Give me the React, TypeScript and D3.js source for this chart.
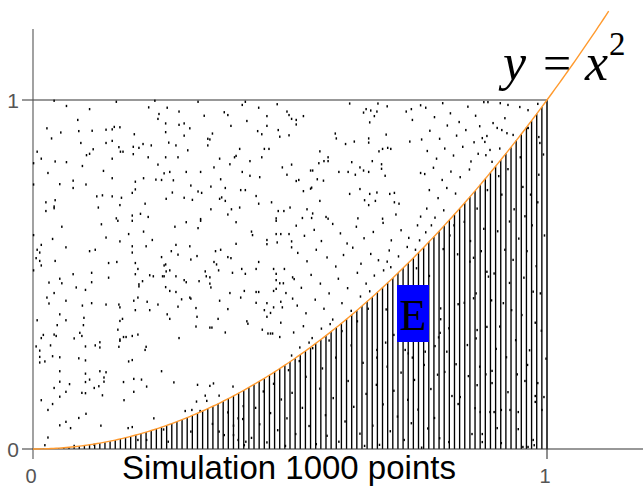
import React from "react";
import * as d3 from "d3";

const W = 643;
const H = 486;

const xTicks = [0, 1];
const yTicks = [0, 1];
const xTickLabels = ["0", "1"];
const yTickLabels = ["0", "1"];
const caption = "Simulation 1000 points";
const regionLabel = "E";
const hatchCount = 100;
const curveEnd = 1.12;

// simulated points (x, y) read /
const pointsUpperLeft: [number, number][] = [
  [0.041,0.998],[0.065,0.983],[0.110,0.974],[0.162,0.995],[0.225,0.979],[0.237,0.998],[0.245,0.960],[0.243,0.946],[0.087,0.943],[0.027,0.919],
  [0.054,0.907],[0.089,0.911],[0.115,0.912],[0.142,0.915],[0.154,0.916],[0.158,0.923],[0.169,0.922],[0.197,0.902],[0.036,0.890],[0.093,0.877],
  [0.117,0.859],[0.104,0.842],[0.110,0.846],[0.142,0.877],[0.154,0.883],[0.167,0.865],[0.170,0.852],[0.175,0.852],[0.195,0.866],[0.195,0.845],
  [0.206,0.863],[0.214,0.874],[0.230,0.870],[0.224,0.836],[0.008,0.852],[0.016,0.832],[0.043,0.824],[0.065,0.822],[0.096,0.811],[0.154,0.832],
  [0.137,0.797],[0.243,0.815],[0.001,0.819],[0.029,0.791],[0.078,0.769],[0.103,0.758],[0.052,0.759],[0.001,0.758],[0.078,0.748],[0.154,0.776],
  [0.199,0.766],[0.215,0.776],[0.239,0.772],[0.250,0.771],[0.199,0.744],[0.193,0.734],[0.124,0.724],[0.135,0.727],[0.154,0.724],[0.172,0.720],
  [0.043,0.713],[0.025,0.707],[0.025,0.682],[0.041,0.695],[0.041,0.690],[0.127,0.692],[0.169,0.699],[0.218,0.703],[0.193,0.669],[0.209,0.674],
  [0.224,0.665],[0.162,0.661],
  [0.321,0.995],[0.261,0.978],[0.284,0.967],[0.333,0.955],[0.372,0.965],[0.379,0.957],[0.407,0.986],[0.413,0.995],[0.439,0.978],[0.475,0.988],
  [0.494,0.967],[0.498,0.957],[0.455,0.954],[0.503,0.946],[0.416,0.940],[0.258,0.933],[0.284,0.929],[0.294,0.933],[0.305,0.919],[0.385,0.926],
  [0.455,0.926],[0.258,0.908],[0.294,0.898],[0.349,0.904],[0.437,0.911],[0.445,0.902],[0.477,0.914],[0.480,0.895],[0.498,0.899],[0.264,0.878],
  [0.278,0.870],[0.340,0.889],[0.344,0.887],[0.340,0.870],[0.301,0.856],[0.402,0.860],[0.450,0.860],[0.459,0.860],[0.258,0.836],[0.282,0.836],
  [0.363,0.832],[0.392,0.836],[0.395,0.840],[0.422,0.825],[0.445,0.836],[0.383,0.816],[0.352,0.807],[0.503,0.815],[0.485,0.807],[0.255,0.790],
  [0.266,0.794],[0.298,0.794],[0.326,0.794],[0.407,0.794],[0.422,0.783],[0.441,0.779],[0.494,0.786],[0.273,0.770],[0.365,0.773],[0.307,0.755],
  [0.346,0.752],[0.374,0.748],[0.404,0.742],[0.413,0.742],[0.321,0.738],[0.328,0.734],[0.271,0.735],[0.294,0.720],[0.310,0.714],[0.363,0.717],
  [0.367,0.721],[0.374,0.711],[0.434,0.725],[0.439,0.703],[0.464,0.707],[0.259,0.717],[0.402,0.692],[0.386,0.687],[0.346,0.687],[0.477,0.682],
  [0.488,0.682],[0.500,0.692],[0.379,0.672],[0.326,0.659],[0.473,0.661],
  [0.616,0.990],[0.648,0.974],[0.657,0.970],[0.643,0.964],[0.669,0.967],[0.671,0.990],[0.689,0.982],[0.664,0.954],[0.726,0.967],[0.736,0.974],
  [0.754,0.985],[0.738,0.943],[0.655,0.936],[0.512,0.943],[0.526,0.954],[0.512,0.930],[0.588,0.904],[0.590,0.890],[0.608,0.874],[0.625,0.881],
  [0.653,0.890],[0.653,0.878],[0.687,0.901],[0.733,0.881],[0.756,0.887],[0.673,0.853],[0.680,0.860],[0.690,0.863],[0.696,0.860],[0.558,0.853],
  [0.574,0.836],[0.566,0.825],[0.574,0.825],[0.556,0.819],[0.620,0.822],[0.660,0.825],[0.636,0.807],[0.643,0.798],[0.653,0.794],[0.678,0.816],
  [0.678,0.803],[0.540,0.798],[0.544,0.798],[0.595,0.794],[0.613,0.794],[0.627,0.786],[0.685,0.783],[0.754,0.791],[0.512,0.768],[0.517,0.771],
  [0.553,0.773],[0.565,0.769],[0.540,0.746],[0.542,0.749],[0.526,0.739],[0.636,0.745],[0.616,0.731],[0.655,0.731],[0.669,0.735],[0.694,0.731],
  [0.703,0.734],[0.558,0.711],[0.645,0.713],[0.666,0.711],[0.703,0.707],[0.712,0.703],[0.653,0.699],[0.533,0.687],[0.544,0.675],[0.706,0.672],
  [0.524,0.662],[0.542,0.662],[0.570,0.665],[0.574,0.660],[0.632,0.661],[0.680,0.660],[0.754,0.666],
];

const pointsMiddle: [number, number][] = [
  [0.056,0.637],[0.133,0.644],[0.165,0.654],[0.193,0.654],[0.215,0.623],[0.186,0.616],[0.142,0.606],[0.169,0.595],[0.001,0.613],[0.038,0.602],
  [0.016,0.585],[0.008,0.571],[0.013,0.563],[0.064,0.578],[0.110,0.567],[0.121,0.571],[0.193,0.581],[0.193,0.563],[0.220,0.581],[0.232,0.599],
  [0.250,0.550],[0.006,0.547],[0.013,0.539],[0.016,0.526],[0.043,0.539],[0.147,0.533],[0.163,0.536],[0.199,0.533],[0.204,0.516],[0.001,0.512],
  [0.078,0.501],[0.114,0.505],[0.199,0.501],[0.227,0.498],[0.234,0.495],[0.252,0.495],[0.052,0.488],[0.147,0.491],[0.031,0.477],[0.056,0.475],
  [0.114,0.478],[0.206,0.472],[0.206,0.466],[0.213,0.481],[0.084,0.463],[0.102,0.456],[0.041,0.447],[0.027,0.434],[0.064,0.425],[0.031,0.417],
  [0.114,0.418],[0.142,0.414],[0.167,0.414],[0.169,0.406],[0.096,0.411],[0.196,0.425],[0.204,0.434],[0.222,0.422],[0.243,0.414],[0.199,0.398],
  [0.227,0.398],[0.052,0.386],[0.064,0.369],[0.008,0.369],[0.099,0.376],[0.098,0.355],[0.047,0.355],[0.174,0.373],[0.169,0.367],[0.165,0.342],
  [0.091,0.333],[0.095,0.324],[0.020,0.327],[0.041,0.328],[0.045,0.324],[0.016,0.318],[0.080,0.317],[0.176,0.321],[0.181,0.321],[0.193,0.324],
  [0.204,0.328],[0.169,0.314],
  [0.276,0.637],[0.298,0.650],[0.321,0.633],[0.326,0.654],[0.395,0.650],[0.473,0.654],[0.425,0.623],[0.427,0.613],[0.473,0.616],[0.482,0.616],
  [0.498,0.616],[0.503,0.595],[0.455,0.599],[0.455,0.587],[0.475,0.592],[0.503,0.578],[0.395,0.588],[0.278,0.585],[0.305,0.581],[0.269,0.567],
  [0.282,0.557],[0.319,0.553],[0.355,0.567],[0.365,0.571],[0.379,0.550],[0.385,0.547],[0.307,0.543],[0.352,0.536],[0.357,0.529],[0.439,0.536],
  [0.258,0.529],[0.255,0.526],[0.259,0.509],[0.266,0.512],[0.335,0.509],[0.361,0.512],[0.388,0.505],[0.406,0.516],[0.413,0.502],[0.434,0.516],
  [0.468,0.516],[0.473,0.502],[0.489,0.516],[0.505,0.492],[0.255,0.495],[0.278,0.495],[0.337,0.495],[0.344,0.492],[0.294,0.484],[0.298,0.478],
  [0.323,0.481],[0.344,0.474],[0.346,0.463],[0.473,0.484],[0.480,0.475],[0.487,0.475],[0.473,0.459],[0.468,0.453],[0.258,0.464],[0.266,0.453],
  [0.278,0.450],[0.411,0.453],[0.434,0.450],[0.439,0.450],[0.383,0.447],[0.404,0.434],[0.492,0.447],[0.505,0.431],[0.289,0.429],[0.305,0.434],
  [0.307,0.431],[0.363,0.425],[0.434,0.419],[0.455,0.418],[0.482,0.422],[0.282,0.408],[0.317,0.404],[0.379,0.401],[0.450,0.398],[0.462,0.390],
  [0.468,0.406],[0.485,0.406],[0.455,0.379],[0.261,0.386],[0.266,0.373],[0.319,0.379],[0.360,0.373],[0.482,0.362],[0.317,0.351],[0.344,0.348],
  [0.348,0.348],[0.374,0.334],[0.416,0.366],[0.418,0.359],[0.446,0.342],[0.457,0.331],[0.462,0.331],[0.466,0.331],[0.480,0.321],[0.284,0.318],
  [0.512,0.640],[0.528,0.611],[0.547,0.628],[0.561,0.596],[0.583,0.645],[0.598,0.618],[0.611,0.589],[0.629,0.637],[0.644,0.604],[0.662,0.622],
  [0.681,0.648],[0.697,0.598],[0.716,0.627],[0.731,0.605],[0.748,0.641],[0.752,0.598],
  [0.515,0.562],[0.533,0.538],[0.551,0.571],[0.572,0.549],[0.589,0.523],[0.604,0.556],[0.622,0.577],[0.638,0.531],[0.657,0.559],[0.672,0.541],
  [0.693,0.569],[0.711,0.552],[0.728,0.579],[0.744,0.571],
  [0.508,0.487],[0.522,0.462],[0.541,0.499],[0.559,0.474],[0.576,0.446],[0.594,0.488],[0.612,0.461],[0.631,0.505],[0.648,0.474],[0.664,0.497],
  [0.682,0.512],[0.514,0.411],[0.531,0.389],[0.549,0.428],[0.566,0.402],[0.583,0.371],[0.601,0.418],[0.619,0.396],[0.637,0.437],[0.655,0.452],
  [0.507,0.334],[0.526,0.352],[0.543,0.318],[0.561,0.345],[0.578,0.358],[0.519,0.291],[0.537,0.305],[0.503,0.268],
];

const pointsRight: [number, number][] = [
  [0.764,0.978],[0.781,0.951],[0.797,0.991],[0.812,0.962],[0.829,0.937],[0.846,0.981],[0.861,0.955],[0.772,0.912],[0.791,0.889],[0.806,0.927],
  [0.824,0.898],[0.842,0.914],[0.858,0.879],[0.869,0.925],[0.767,0.854],[0.785,0.832],[0.801,0.861],[0.818,0.841],[0.836,0.866],[0.852,0.824],
  [0.866,0.846],[0.762,0.788],[0.779,0.806],[0.796,0.771],[0.813,0.795],[0.831,0.779],[0.849,0.801],[0.771,0.742],[0.788,0.719],[0.805,0.748],
  [0.822,0.732],[0.766,0.689],[0.782,0.663],[0.799,0.684],[0.764,0.621],[0.775,0.641],
  [0.881,0.842],[0.893,0.823],[0.908,0.861],[0.889,0.857],
  [0.877,0.994],[0.885,0.994],[0.909,0.991],[0.924,0.986],[0.947,0.980],[0.963,0.971],[0.982,0.989],[0.918,0.948],[0.895,0.934],[0.903,0.920],
  [0.912,0.914],[0.922,0.905],[0.934,0.900],[0.883,0.897],[0.879,0.880],[0.874,0.891],[0.963,0.920],[0.984,0.894],[0.986,0.877],
];

const pointsLower: [number, number][] = [
  [0.034,0.297],[0.006,0.294],[0.013,0.282],[0.013,0.264],[0.013,0.248],[0.023,0.251],[0.038,0.266],[0.052,0.263],[0.089,0.260],[0.102,0.294],
  [0.102,0.254],[0.121,0.297],[0.130,0.306],[0.130,0.291],[0.169,0.310],[0.167,0.293],[0.218,0.284],[0.220,0.293],[0.193,0.255],[0.186,0.251],
  [0.052,0.223],[0.102,0.216],[0.130,0.223],[0.142,0.220],[0.250,0.223],[0.052,0.193],[0.071,0.186],[0.102,0.192],[0.110,0.199],[0.138,0.205],
  [0.138,0.193],[0.119,0.175],[0.128,0.180],[0.176,0.192],[0.196,0.201],[0.211,0.199],[0.221,0.179],[0.041,0.175],[0.064,0.164],[0.095,0.161],
  [0.102,0.160],[0.052,0.150],[0.135,0.154],[0.196,0.164],[0.016,0.140],[0.038,0.129],[0.029,0.112],[0.103,0.101],[0.089,0.089],[0.064,0.078],
  [0.052,0.068],[0.073,0.060],[0.132,0.067],[0.185,0.060],[0.193,0.063],[0.235,0.088],[0.029,0.033],[0.023,0.011],[0.080,0.009],[0.119,0.012],
  [0.274,0.191],[0.320,0.184],[0.344,0.181],[0.351,0.188],[0.389,0.179],[0.177,0.140],[0.204,0.026],[0.221,0.026],[0.254,0.056],[0.263,0.021],
  [0.296,0.109],[0.309,0.112],[0.318,0.136],[0.335,0.153],[0.338,0.138],[0.362,0.153],[0.379,0.105],[0.409,0.123],[0.408,0.086],[0.399,0.088],
  [0.390,0.067],[0.390,0.040],[0.349,0.072],[0.362,0.050],[0.372,0.040],[0.307,0.050],[0.399,0.026],[0.414,0.021],[0.411,0.011],[0.325,0.109],
  [0.425,0.032],[0.433,0.118],[0.441,0.071],[0.448,0.165],[0.455,0.019],[0.462,0.103],[0.468,0.187],[0.476,0.054],[0.483,0.142],[0.491,0.009],
  [0.497,0.226],[0.494,0.088],[0.504,0.161],[0.511,0.043],[0.518,0.252],[0.524,0.118],[0.531,0.207],[0.537,0.066],[0.544,0.289],[0.551,0.014],
  [0.558,0.173],[0.563,0.231],[0.569,0.097],[0.576,0.311],[0.572,0.038],[0.584,0.146],[0.589,0.262],[0.595,0.021],[0.601,0.338],[0.607,0.079],
  [0.613,0.195],[0.619,0.297],[0.624,0.121],[0.631,0.366],[0.636,0.044],[0.642,0.247],[0.648,0.158],[0.652,0.402],[0.645,0.009],
  [0.661,0.067],[0.668,0.184],[0.674,0.012],[0.681,0.128],[0.689,0.236],[0.695,0.051],[0.702,0.167],[0.709,0.093],[0.716,0.219],[0.722,0.026],
  [0.729,0.141],[0.736,0.074],[0.742,0.198],[0.749,0.113],[0.756,0.004],[0.761,0.241],[0.768,0.059],[0.774,0.172],[0.781,0.089],[0.787,0.213],
  [0.791,0.031],
  [0.689,0.537],[0.696,0.521],[0.746,0.518],[0.771,0.496],[0.850,0.537],[0.883,0.508],[0.886,0.494],[0.687,0.400],[0.702,0.327],[0.686,0.305],
  [0.669,0.284],[0.669,0.262],[0.724,0.284],[0.730,0.274],[0.738,0.262],[0.763,0.279],[0.782,0.295],[0.789,0.320],[0.792,0.333],[0.809,0.346],
  [0.805,0.279],[0.827,0.415],[0.839,0.419],[0.862,0.446],[0.857,0.432],[0.883,0.350],[0.864,0.341],[0.862,0.317],[0.845,0.298],[0.793,0.403],
  [0.793,0.372],
  [0.801,0.221],[0.823,0.243],[0.847,0.209],[0.869,0.236],[0.881,0.214],[0.798,0.573],[0.811,0.612],[0.826,0.558],[0.839,0.651],[0.851,0.596],
  [0.864,0.689],[0.877,0.631],[0.884,0.742],[0.872,0.567],[0.819,0.641],[0.857,0.548],
  [0.809,0.020],[0.815,0.152],[0.827,0.129],[0.831,0.149],[0.864,0.183],[0.860,0.117],[0.870,0.106],[0.854,0.043],[0.874,0.043],[0.874,0.020],
  [0.893,0.189],[0.889,0.106],[0.897,0.106],[0.903,0.060],[0.911,0.112],[0.911,0.017],[0.924,0.163],[0.928,0.112],[0.944,0.106],[0.944,0.057],
  [0.957,0.195],[0.953,0.006],[0.963,0.006],[0.973,0.026],[0.977,0.152],[0.977,0.135],[0.975,0.011],[0.982,0.189],[0.990,0.112],[0.994,0.149],
  [0.893,0.224],[0.901,0.287],[0.908,0.351],[0.915,0.418],[0.921,0.263],[0.927,0.476],[0.934,0.542],[0.939,0.312],[0.945,0.603],[0.951,0.384],
  [0.957,0.667],[0.962,0.241],[0.968,0.729],[0.973,0.451],[0.979,0.524],[0.984,0.786],[0.989,0.339],[0.995,0.612],[0.897,0.503],[0.904,0.624],
  [0.912,0.729],[0.918,0.571],[0.924,0.802],[0.931,0.398],[0.936,0.687],[0.942,0.214],[0.948,0.836],[0.955,0.491],[0.961,0.567],[0.966,0.283],
  [0.971,0.641],[0.977,0.362],[0.982,0.707],[0.987,0.446],[0.993,0.844],[0.998,0.259],[0.892,0.426],[0.906,0.782],[0.927,0.652],[0.953,0.751],
  [0.963,0.920],
];

const points: [number, number][] = [...pointsUpperLeft, ...pointsMiddle, ...pointsRight, ...pointsLower];

export default function App() {
  const x = d3.scaleLinear().domain([0, 1]).range([33, 547]);
  const y = d3.scaleLinear().domain([0, 1]).range([449, 100]);
  const f = (t: number) => t * t;

  const curvePts = d3.range(0, curveEnd + 1e-9, 0.005).map((t) => [t, f(t)] as [number, number]);
  const line = d3
    .line<[number, number]>()
    .x((d) => x(d[0]))
    .y((d) => y(d[1]));

  const hatch = d3.range(1, hatchCount + 1).map((i) => i / hatchCount);

  return (
    <svg
      width={W}
      height={H}
      style={{ position: "absolute", left: 0, top: 0, background: "#fff" }}
    >
      <rect x={0} y={0} width={W} height={H} fill="#fff" />
      {hatch.map((t, i) => (
        <line
          key={"h" + i}
          x1={x(t)}
          x2={x(t)}
          y1={y(0)}
          y2={y(f(t))}
          stroke="#000"
          strokeWidth={1.35}
        />
      ))}
      <line x1={22} x2={x(1)} y1={y(1)} y2={y(1)} stroke="#333" strokeWidth={1.1} />
      <line x1={x(1)} x2={x(1)} y1={y(1)} y2={y(0) + 10} stroke="#333" strokeWidth={1.1} />
      <line x1={x(0)} x2={x(0)} y1={29} y2={y(0) + 10} stroke="#555" strokeWidth={1.1} />
      <line x1={22} x2={W} y1={y(0)} y2={y(0)} stroke="#333" strokeWidth={1.1} />
      {points.map((p, i) => (
        <rect key={"p" + i} x={x(p[0]) - 0.7} y={y(p[1]) - 1.1} width={1.5} height={2.3} fill="#000" />
      ))}
      <path d={line(curvePts) || ""} fill="none" stroke="#FF9A2E" strokeWidth={1.4} />
      {yTicks.map((t, i) => (
        <text
          key={"yt" + i}
          x={13}
          y={y(t) + 8}
          fontFamily="Liberation Sans, Arial, sans-serif"
          fontSize={21}
          fill="#555"
          textAnchor="middle"
        >
          {yTickLabels[i]}
        </text>
      ))}
      {xTicks.map((t, i) => (
        <text
          key={"xt" + i}
          x={x(t) - 2}
          y={483}
          fontFamily="Liberation Sans, Arial, sans-serif"
          fontSize={20}
          fill="#555"
          textAnchor="middle"
        >
          {xTickLabels[i]}
        </text>
      ))}
      <text
        x={289}
        y={479}
        fontFamily="Liberation Sans, Arial, sans-serif"
        fontSize={33}
        fill="#000"
        textAnchor="middle"
      >
        {caption}
      </text>
      <rect x={397} y={285} width={32} height={57} fill="#0000FF" />
      <text
        x={413}
        y={330}
        fontFamily="Liberation Serif, Times New Roman, serif"
        fontSize={44}
        fill="#000"
        textAnchor="middle"
      >
        {regionLabel}
      </text>
      <g fontFamily="Liberation Serif, Times New Roman, serif" fill="#000">
        <text x={503} y={80} fontSize={52} fontStyle="italic">y</text>
        <text x={543} y={80} fontSize={50}>=</text>
        <text x={585} y={80} fontSize={52} fontStyle="italic">x</text>
        <text x={609} y={55} fontSize={33}>2</text>
      </g>
    </svg>
  );
}
